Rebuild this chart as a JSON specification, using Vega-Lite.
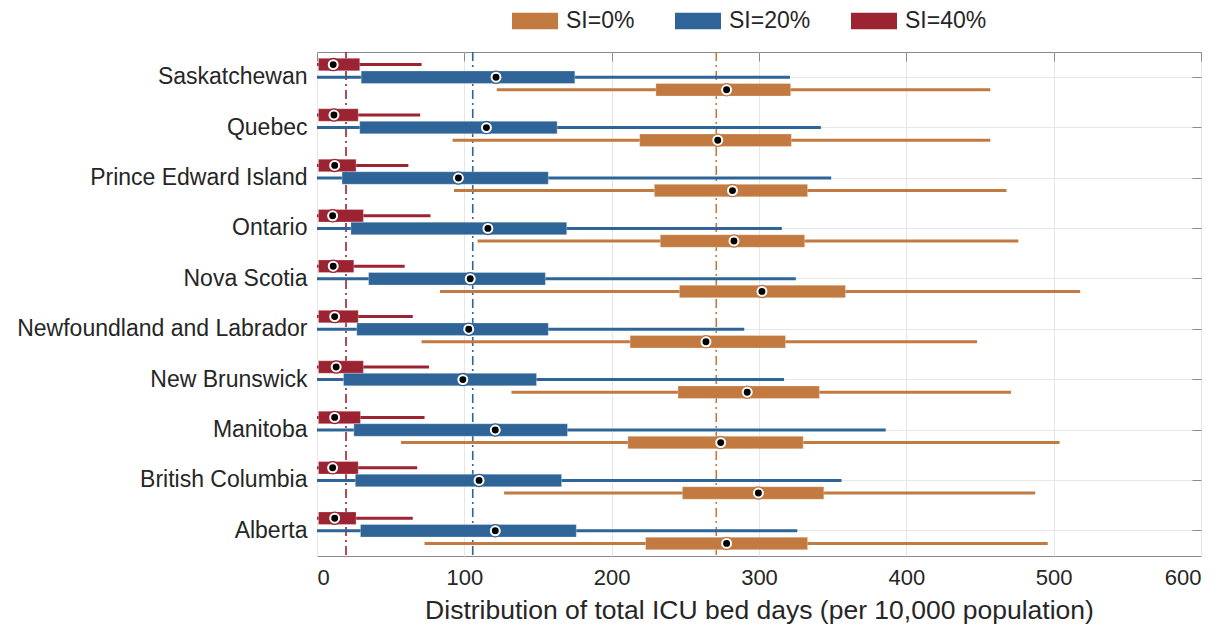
{
  "$schema": "https://vega.github.io/schema/vega-lite/v6.json",
  "width": 884,
  "height": 504,
  "autosize": {"type": "none"},
  "padding": {"left": 317, "top": 52, "right": 30, "bottom": 74},
  "background": "white",
  "config": {
    "font": "Liberation Sans",
    "view": {"stroke": "#8a8a8a", "strokeWidth": 1},
    "axis": {"labelColor": "#262626", "titleColor": "#262626", "gridColor": "#e6e6e6", "gridWidth": 1}
  },
  "datasets": {
    "boxes": [
      {"province": "Saskatchewan", "si": "SI=40%", "lo": 0, "q1": 1, "med": 11, "q3": 29, "hi": 71},
      {"province": "Saskatchewan", "si": "SI=20%", "lo": 0, "q1": 30, "med": 121.5, "q3": 175, "hi": 321},
      {"province": "Saskatchewan", "si": "SI=0%", "lo": 122, "q1": 230, "med": 278, "q3": 321.5, "hi": 457},
      {"province": "Quebec", "si": "SI=40%", "lo": 0, "q1": 1, "med": 11.5, "q3": 28, "hi": 70},
      {"province": "Quebec", "si": "SI=20%", "lo": 0, "q1": 29, "med": 115, "q3": 163, "hi": 342},
      {"province": "Quebec", "si": "SI=0%", "lo": 92, "q1": 219, "med": 272, "q3": 322, "hi": 457},
      {"province": "Prince Edward Island", "si": "SI=40%", "lo": 0, "q1": 1, "med": 12, "q3": 26.5, "hi": 62},
      {"province": "Prince Edward Island", "si": "SI=20%", "lo": 0, "q1": 17, "med": 96, "q3": 157, "hi": 349},
      {"province": "Prince Edward Island", "si": "SI=0%", "lo": 93, "q1": 229, "med": 282, "q3": 333, "hi": 468},
      {"province": "Ontario", "si": "SI=40%", "lo": 0, "q1": 1, "med": 10.6, "q3": 31.5, "hi": 77},
      {"province": "Ontario", "si": "SI=20%", "lo": 0, "q1": 23, "med": 116, "q3": 169.5, "hi": 315.5},
      {"province": "Ontario", "si": "SI=0%", "lo": 109, "q1": 233, "med": 283, "q3": 331, "hi": 476},
      {"province": "Nova Scotia", "si": "SI=40%", "lo": 0, "q1": 1, "med": 11, "q3": 25, "hi": 59.5},
      {"province": "Nova Scotia", "si": "SI=20%", "lo": 0, "q1": 35, "med": 104, "q3": 155, "hi": 325},
      {"province": "Nova Scotia", "si": "SI=0%", "lo": 83.5, "q1": 246, "med": 302, "q3": 358.7, "hi": 518},
      {"province": "Newfoundland and Labrador", "si": "SI=40%", "lo": 0, "q1": 1, "med": 12, "q3": 28, "hi": 65},
      {"province": "Newfoundland and Labrador", "si": "SI=20%", "lo": 0, "q1": 27, "med": 103, "q3": 157, "hi": 290},
      {"province": "Newfoundland and Labrador", "si": "SI=0%", "lo": 71, "q1": 212.5, "med": 264, "q3": 318, "hi": 448},
      {"province": "New Brunswick", "si": "SI=40%", "lo": 0, "q1": 1, "med": 13, "q3": 31.5, "hi": 76},
      {"province": "New Brunswick", "si": "SI=20%", "lo": 0, "q1": 18, "med": 99, "q3": 149, "hi": 317},
      {"province": "New Brunswick", "si": "SI=0%", "lo": 132, "q1": 245, "med": 292, "q3": 341, "hi": 471},
      {"province": "Manitoba", "si": "SI=40%", "lo": 0, "q1": 1, "med": 12, "q3": 29.5, "hi": 73},
      {"province": "Manitoba", "si": "SI=20%", "lo": 0, "q1": 25, "med": 121, "q3": 170, "hi": 386},
      {"province": "Manitoba", "si": "SI=0%", "lo": 57, "q1": 211, "med": 274, "q3": 330, "hi": 504},
      {"province": "British Columbia", "si": "SI=40%", "lo": 0, "q1": 1, "med": 10.6, "q3": 28, "hi": 68},
      {"province": "British Columbia", "si": "SI=20%", "lo": 0, "q1": 26, "med": 110, "q3": 166, "hi": 356},
      {"province": "British Columbia", "si": "SI=0%", "lo": 127, "q1": 248, "med": 299.6, "q3": 344, "hi": 487.5},
      {"province": "Alberta", "si": "SI=40%", "lo": 0, "q1": 1, "med": 12, "q3": 26.5, "hi": 65},
      {"province": "Alberta", "si": "SI=20%", "lo": 0, "q1": 29.5, "med": 121, "q3": 176, "hi": 326},
      {"province": "Alberta", "si": "SI=0%", "lo": 73, "q1": 223, "med": 278, "q3": 333, "hi": 496}
    ],
    "means": [
      {"si": "SI=40%", "mean": 19.7},
      {"si": "SI=20%", "mean": 105.7},
      {"si": "SI=0%", "mean": 271}
    ]
  },
  "resolve": {"axis": {"x": "independent", "y": "independent"}},
  "layer": [
    {
      "data": {"name": "means"},
      "mark": {"type": "rule", "strokeWidth": 1.6, "strokeDash": [9, 4, 2, 4]},
      "encoding": {
        "x": {
          "field": "mean", "type": "quantitative",
          "scale": {"domain": [0, 600], "nice": false, "zero": false},
          "axis": {
            "orient": "bottom",
            "values": [0, 100, 200, 300, 400, 500, 600],
            "title": "Distribution of total ICU bed days (per 10,000 population)",
            "titleFontSize": 26.5, "titleFontWeight": "normal", "titlePadding": 9,
            "labelFontSize": 22, "labelPadding": 11, "ticks": false, "domain": false, "grid": true
          }
        },
        "color": {"field": "si", "type": "nominal", "scale": {"domain": ["SI=0%", "SI=20%", "SI=40%"], "range": ["#C27A40", "#2E6497", "#9C2331"]},
          "legend": {
            "title": null, "orient": "none", "direction": "horizontal", "legendX": 195, "legendY": -54,
            "symbolType": "M-1,-0.36L1,-0.36L1,0.36L-1,0.36Z", "symbolSize": 2116, "symbolStrokeWidth": 0,
            "symbolFillColor": "black", "symbolOpacity": 1,
            "labelFontSize": 23, "labelColor": "#262626", "labelOffset": 8, "columnPadding": 40
          }
        }
      }
    },
    {
      "data": {"name": "boxes"},
      "mark": {"type": "rule", "strokeWidth": 3},
      "encoding": {
        "y": {
          "field": "province", "type": "nominal",
          "sort": ["Saskatchewan", "Quebec", "Prince Edward Island", "Ontario", "Nova Scotia", "Newfoundland and Labrador", "New Brunswick", "Manitoba", "British Columbia", "Alberta"],
          "scale": {"paddingInner": 0, "paddingOuter": 0},
          "axis": {"title": null, "labelFontSize": 23, "labelPadding": 10, "labelLimit": 500, "ticks": false, "domain": false, "grid": true}
        },
        "yOffset": {"field": "si", "type": "nominal", "scale": {"domain": ["SI=40%", "SI=20%", "SI=0%"], "paddingInner": 0, "paddingOuter": 0.5}},
        "x": {"field": "lo", "type": "quantitative", "axis": null},
        "x2": {"field": "hi"},
        "color": {"field": "si", "type": "nominal"}
      }
    },
    {
      "data": {"name": "boxes"},
      "mark": {"type": "bar", "size": 12.5, "stroke": "white", "strokeOpacity": 0.35, "strokeWidth": 0.8},
      "encoding": {
        "y": {
          "field": "province", "type": "nominal",
          "sort": ["Saskatchewan", "Quebec", "Prince Edward Island", "Ontario", "Nova Scotia", "Newfoundland and Labrador", "New Brunswick", "Manitoba", "British Columbia", "Alberta"],
          "axis": null
        },
        "yOffset": {"field": "si", "type": "nominal"},
        "x": {"field": "q1", "type": "quantitative", "axis": null},
        "x2": {"field": "q3"},
        "color": {"field": "si", "type": "nominal"}
      }
    },
    {
      "data": {"name": "boxes"},
      "mark": {"type": "point", "shape": "circle", "filled": true, "fill": "white", "size": 150, "strokeWidth": 1.3, "opacity": 1},
      "encoding": {
        "y": {
          "field": "province", "type": "nominal",
          "sort": ["Saskatchewan", "Quebec", "Prince Edward Island", "Ontario", "Nova Scotia", "Newfoundland and Labrador", "New Brunswick", "Manitoba", "British Columbia", "Alberta"],
          "axis": null
        },
        "yOffset": {"field": "si", "type": "nominal"},
        "x": {"field": "med", "type": "quantitative", "axis": null},
        "stroke": {"field": "si", "type": "nominal", "scale": {"domain": ["SI=0%", "SI=20%", "SI=40%"], "range": ["#C27A40", "#2E6497", "#9C2331"]}, "legend": null}
      }
    },
    {
      "data": {"name": "boxes"},
      "mark": {"type": "point", "shape": "circle", "filled": true, "color": "black", "size": 48, "opacity": 1},
      "encoding": {
        "y": {
          "field": "province", "type": "nominal",
          "sort": ["Saskatchewan", "Quebec", "Prince Edward Island", "Ontario", "Nova Scotia", "Newfoundland and Labrador", "New Brunswick", "Manitoba", "British Columbia", "Alberta"],
          "axis": null
        },
        "yOffset": {"field": "si", "type": "nominal"},
        "x": {"field": "med", "type": "quantitative", "axis": null}
      }
    },
    {
      "data": {"name": "boxes"},
      "mark": {"type": "point", "opacity": 0},
      "encoding": {
        "y": {
          "field": "province", "type": "nominal",
          "sort": ["Saskatchewan", "Quebec", "Prince Edward Island", "Ontario", "Nova Scotia", "Newfoundland and Labrador", "New Brunswick", "Manitoba", "British Columbia", "Alberta"],
          "axis": {"orient": "right", "title": null, "labels": false, "ticks": true, "tickSize": -9, "tickColor": "#8a8a8a", "domain": false, "grid": false}
        },
        "x": {
          "field": "med", "type": "quantitative",
          "axis": {"orient": "top", "values": [0, 100, 200, 300, 400, 500, 600], "title": null, "labels": false, "ticks": true, "tickSize": -9, "tickColor": "#8a8a8a", "domain": false, "grid": false}
        }
      }
    }
  ]
}
